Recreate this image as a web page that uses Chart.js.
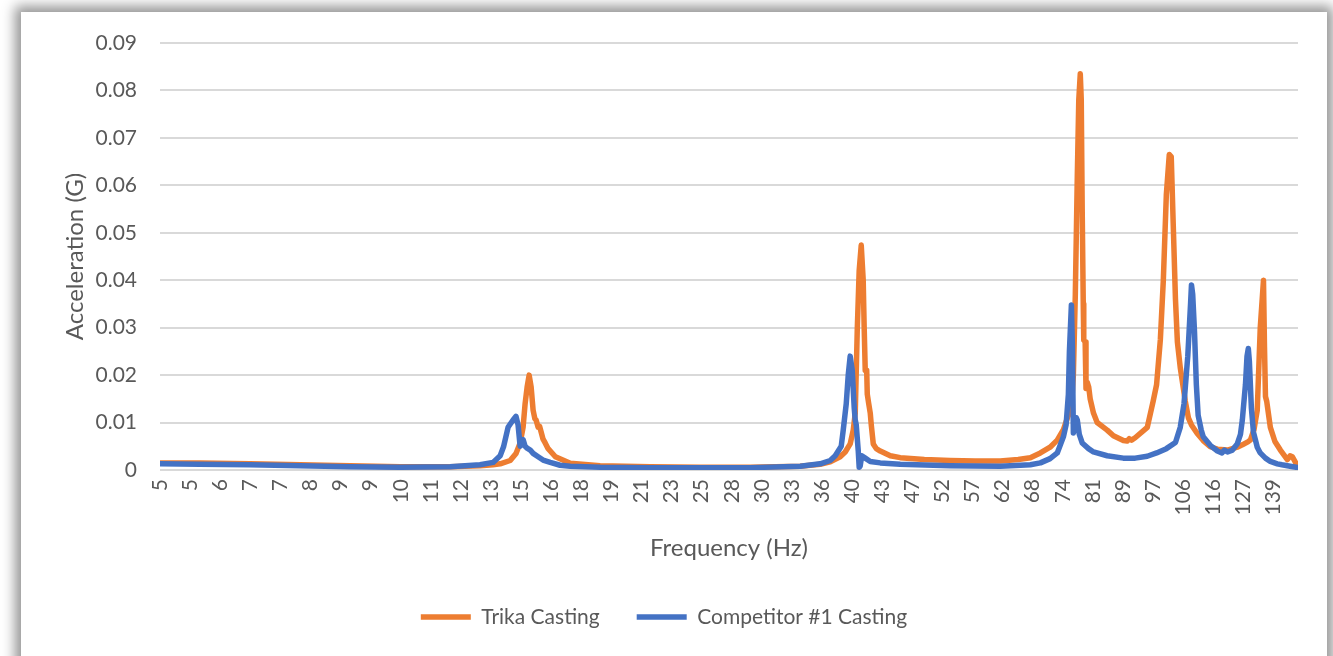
<!DOCTYPE html>
<html>
<head>
<meta charset="utf-8">
<title>Acceleration vs Frequency</title>
<script src="https://cdn.jsdelivr.net/npm/chart.js@4.4.1/dist/chart.umd.min.js"></script>
<style>
  html, body { margin: 0; padding: 0; background: #fff; }
  body { width: 1333px; height: 656px; overflow: hidden; position: relative; }
  #card {
    position: absolute; left: 21px; top: 12px; width: 1306px; height: 720px;
    background: #fff; box-shadow: 0 0 12px 6px rgba(0, 0, 0, 0.42);
  }
  #chart { position: absolute; left: 0; top: 0; }
</style>
</head>
<body>
<div id="card"></div>
<canvas id="chart" width="1333" height="656"></canvas>
<script>
// Sweep frequencies (Hz) and measured acceleration (G) for each casting
const trikaHz = [
  5.00, 5.63, 6.54, 7.60, 8.82, 10.25, 11.90, 13.01, 13.53, 13.82,
  14.24, 14.49, 14.67, 14.80, 14.89, 14.98, 15.07, 15.16, 15.25, 15.33,
  15.39, 15.48, 15.55, 15.62, 15.71, 15.81, 15.95, 16.30, 17.04, 18.63,
  21.64, 25.13, 29.18, 33.88, 35.97, 37.06, 38.18, 38.76, 39.34, 39.70,
  39.94, 40.18, 40.41, 40.66, 40.90, 41.02, 41.15, 41.33, 41.40, 41.58,
  41.77, 41.90, 42.15, 42.53, 43.04, 44.35, 45.69, 49.10, 53.05, 57.16,
  61.60, 65.00, 67.40, 69.45, 71.50, 73.05, 74.40, 75.30, 76.20, 76.65,
  77.10, 77.56, 77.90, 78.25, 78.48, 78.70, 78.95, 79.07, 79.40, 79.60,
  79.90, 80.25, 80.60, 81.40, 82.30, 84.80, 86.40, 89.00, 90.00, 90.60,
  91.20, 92.20, 95.60, 97.30, 98.30, 99.40, 100.30, 101.20, 102.10, 102.70,
  103.30, 104.00, 104.60, 105.50, 107.10, 108.10, 109.10, 111.00, 113.00, 115.40,
  117.90, 121.50, 125.10, 127.00, 129.30, 130.10, 131.50, 132.80, 134.00, 135.30,
  135.70, 136.10, 136.60, 138.10, 140.00, 142.30, 145.30, 146.50, 147.50, 149.00,
  150.00
];
const trikaG = [
  0.0015, 0.00145, 0.0013, 0.0011, 0.0009, 0.0007, 0.0007, 0.0009, 0.0011, 0.0013,
  0.0020, 0.0035, 0.0057, 0.0090, 0.0140, 0.0175, 0.0200, 0.0175, 0.0126, 0.0108,
  0.0105, 0.0090, 0.0092, 0.0080, 0.0065, 0.0057, 0.0045, 0.0028, 0.0014, 0.0009,
  0.0007, 0.0006, 0.0006, 0.0008, 0.0012, 0.0017, 0.0028, 0.0038, 0.0055, 0.0084,
  0.0120, 0.0295, 0.0420, 0.0474, 0.0400, 0.0300, 0.0210, 0.0210, 0.0160, 0.0140,
  0.0120, 0.0095, 0.0055, 0.0045, 0.0040, 0.0030, 0.0026, 0.0022, 0.0020, 0.0019,
  0.0019, 0.0022, 0.0026, 0.0036, 0.0048, 0.0063, 0.0085, 0.0110, 0.0130, 0.0200,
  0.0370, 0.0620, 0.0780, 0.0835, 0.0780, 0.0550, 0.0350, 0.0274, 0.0270, 0.0172,
  0.0185, 0.0175, 0.0150, 0.0120, 0.0100, 0.0084, 0.0072, 0.0062, 0.0061, 0.0066,
  0.0063, 0.0068, 0.0090, 0.0145, 0.0180, 0.0274, 0.0400, 0.0580, 0.0665, 0.0660,
  0.0520, 0.0360, 0.0270, 0.0216, 0.0145, 0.0110, 0.0095, 0.0077, 0.0062, 0.0049,
  0.0044, 0.0042, 0.0048, 0.0053, 0.0060, 0.0063, 0.0085, 0.0126, 0.0300, 0.0400,
  0.0260, 0.0155, 0.0145, 0.0090, 0.0060, 0.0042, 0.0022, 0.0030, 0.0028, 0.0015,
  0.0008
];

const competitorHz = [
  5.00, 5.63, 6.54, 7.60, 8.82, 10.25, 11.90, 13.01, 13.53, 13.82,
  13.96, 14.15, 14.37, 14.49, 14.58, 14.67, 14.74, 14.80, 14.89, 14.98,
  15.12, 15.25, 15.48, 15.71, 16.05, 16.53, 17.04, 18.63, 21.64, 25.13,
  29.18, 33.88, 35.97, 37.06, 37.62, 38.30, 38.53, 38.88, 39.11, 39.34,
  39.58, 39.82, 39.94, 40.06, 40.30, 40.41, 40.53, 40.72, 41.15, 41.77,
  43.04, 45.69, 53.05, 61.60, 67.40, 69.45, 71.50, 73.05, 74.40, 75.00,
  75.52, 75.75, 76.20, 76.43, 76.65, 76.88, 77.33, 77.56, 78.02, 78.70,
  80.20, 81.40, 84.80, 89.00, 92.20, 95.60, 98.30, 101.20, 104.00, 105.50,
  106.70, 107.90, 108.80, 109.10, 109.50, 110.10, 110.70, 111.30, 112.30, 113.00,
  115.40, 117.90, 119.50, 120.40, 121.50, 123.30, 125.10, 126.30, 127.00, 128.20,
  128.80, 129.30, 129.70, 130.50, 131.30, 132.80, 134.00, 136.10, 138.10, 141.00,
  143.00, 146.50, 150.00
];
const competitorG = [
  0.0013, 0.0012, 0.0011, 0.0009, 0.0007, 0.0006, 0.0007, 0.0011, 0.0016, 0.0030,
  0.0049, 0.0090, 0.0106, 0.0113, 0.0095, 0.0050, 0.0055, 0.0064, 0.0050, 0.0046,
  0.0042, 0.0035, 0.0028, 0.0021, 0.0016, 0.0010, 0.0008, 0.0006, 0.0005, 0.0005,
  0.0005, 0.0008, 0.0013, 0.0020, 0.0030, 0.0050, 0.0084, 0.0140, 0.0200, 0.0240,
  0.0210, 0.0130, 0.0105, 0.0095, 0.0040, 0.0006, 0.0008, 0.0030, 0.0025, 0.0018,
  0.0015, 0.0012, 0.0009, 0.0008, 0.0011, 0.0015, 0.0024, 0.0036, 0.0070, 0.0095,
  0.0160, 0.0250, 0.0348, 0.0260, 0.0078, 0.0090, 0.0110, 0.0105, 0.0075, 0.0057,
  0.0045, 0.0038, 0.0030, 0.0025, 0.0025, 0.0029, 0.0036, 0.0045, 0.0058, 0.0090,
  0.0140, 0.0240, 0.0350, 0.0390, 0.0370, 0.0290, 0.0180, 0.0115, 0.0085, 0.0070,
  0.0052, 0.0040, 0.0036, 0.0042, 0.0038, 0.0042, 0.0055, 0.0075, 0.0105, 0.0180,
  0.0240, 0.0256, 0.0230, 0.0130, 0.0080, 0.0048, 0.0036, 0.0025, 0.0018, 0.0013,
  0.0011, 0.0008, 0.0005
];

// Category labels along the sweep axis and the frequencies they sit at
const tickHz = [
  5.000, 5.471, 5.985, 6.549, 7.165, 7.839, 8.577, 9.384, 10.267, 11.233,
  12.290, 13.447, 14.712, 16.097, 17.612, 19.269, 21.082, 23.066, 25.237, 27.612,
  30.210, 33.053, 36.164, 39.567, 43.290, 47.364, 51.822, 56.699, 62.034, 67.872,
  74.259, 81.247, 88.893, 97.259, 106.41, 116.42, 127.38, 139.37
];
const tickLabels = [
  '5', '5', '6', '7', '7', '8', '9', '9', '10', '11',
  '12', '13', '15', '16', '18', '19', '21', '23', '25', '28',
  '30', '33', '36', '40', '43', '47', '52', '57', '62', '68',
  '74', '81', '89', '97', '106', '116', '127', '139'
];

const seriesNames = ['Trika Casting', 'Competitor #1 Casting'];
const seriesColors = ['#ED7D31', '#4472C4'];

const toPoints = (hz, g) => hz.map((f, i) => ({ x: f, y: g[i] }));

Chart.defaults.font.family = 'Lato, "Open Sans", sans-serif';
Chart.defaults.font.size = 21;
Chart.defaults.color = '#595959';

const lineStyle = (i) => ({
  label: seriesNames[i],
  borderColor: seriesColors[i],
  backgroundColor: seriesColors[i],
  borderWidth: 5.5,
  pointRadius: 0,
  pointHoverRadius: 0,
  tension: 0,
  borderCapStyle: 'round',
  borderJoinStyle: 'round',
  fill: false
});

new Chart(document.getElementById('chart'), {
  type: 'line',
  data: {
    datasets: [
      // the competitor trace is drawn on top, as in the source workbook
      Object.assign(lineStyle(0), { data: toPoints(trikaHz, trikaG), order: 1 }),
      Object.assign(lineStyle(1), { data: toPoints(competitorHz, competitorG), order: 0 })
    ]
  },
  options: {
    responsive: false,
    animation: false,
    events: [],
    layout: { padding: { left: 30, right: 35, top: 43, bottom: 18.5 } },
    plugins: {
      legend: {
        position: 'bottom',
        labels: {
          usePointStyle: true,
          pointStyle: 'line',
          pointStyleWidth: 50,
          padding: 37,
          color: '#595959',
          sort: (a, b) => a.datasetIndex - b.datasetIndex
        }
      },
      tooltip: { enabled: false }
    },
    scales: {
      x: {
        type: 'logarithmic',
        min: 5,
        max: 150,
        grid: { display: false, drawTicks: false },
        border: { display: false },
        afterBuildTicks: (axis) => { axis.ticks = tickHz.map((v) => ({ value: v })); },
        afterFit: (axis) => { axis.height = 99.5; },
        ticks: {
          autoSkip: false,
          minRotation: 90,
          maxRotation: 90,
          padding: 9,
          callback: (v, i) => tickLabels[i]
        },
        title: {
          display: true, text: 'Frequency (Hz)', font: { size: 24 },
          padding: { top: 0, bottom: 7 }
        }
      },
      y: {
        min: 0,
        max: 0.09,
        afterFit: (axis) => { axis.width = 130; },
        grid: { color: '#d9d9d9', lineWidth: 2, drawTicks: false },
        border: { display: false },
        ticks: {
          stepSize: 0.01,
          padding: 23,
          callback: (v) => (v === 0 ? '0' : v.toFixed(2))
        },
        title: {
          display: true, text: 'Acceleration (G)', font: { size: 24 },
          padding: { top: 30.5, bottom: 0 }
        }
      }
    }
  }
});
</script>
</body>
</html>
